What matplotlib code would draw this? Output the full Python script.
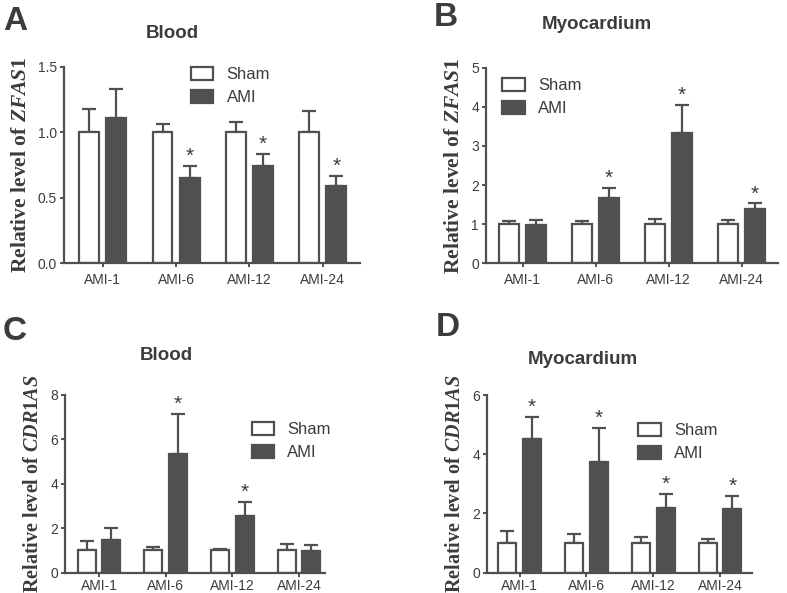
import numpy as np
import matplotlib.pyplot as plt

plt.rcParams['mathtext.fontset'] = 'custom'
plt.rcParams['mathtext.it'] = 'Liberation Serif:italic:bold'
plt.rcParams['mathtext.rm'] = 'Liberation Serif:bold'

groups = ['AMI-1', 'AMI-6', 'AMI-12', 'AMI-24']

# A: ZFAS1 blood
a_sham = [1.0, 1.0, 1.0, 1.0]
a_sham_err = [0.18, 0.06, 0.08, 0.165]
a_ami = [1.107, 0.654, 0.745, 0.592]
a_ami_err = [0.225, 0.09, 0.09, 0.077]
a_sig = [False, True, True, True]

# B: ZFAS1 myocardium
b_sham = [1.0, 1.0, 1.0, 1.0]
b_sham_err = [0.09, 0.09, 0.13, 0.10]
b_ami = [0.97, 1.68, 3.32, 1.39]
b_ami_err = [0.145, 0.24, 0.73, 0.14]
b_sig = [False, True, True, True]

# C: CDR1AS blood
c_sham = [1.0, 1.0, 1.0, 1.0]
c_sham_err = [0.44, 0.17, 0.07, 0.28]
c_ami = [1.47, 5.35, 2.55, 0.99]
c_ami_err = [0.56, 1.80, 0.62, 0.26]
c_sig = [False, True, True, False]

# D: CDR1AS myocardium
d_sham = [1.0, 1.0, 1.0, 1.0]
d_sham_err = [0.42, 0.31, 0.20, 0.14]
d_ami = [4.50, 3.73, 2.17, 2.14]
d_ami_err = [0.77, 1.15, 0.49, 0.45]
d_sig = [True, True, True, True]

dark = '#505050'
txt = '#3c3c3c'

W, H = 787, 593
fig = plt.figure(figsize=(W / 100, H / 100), dpi=100)


def px_axes(x0, x1, ytop, ybot):
    return fig.add_axes([x0 / W, 1 - ybot / H, (x1 - x0) / W, (ybot - ytop) / H])


panels = [
    dict(box=(64, 360, 66.7, 263.3), xl=(-0.53, 3.51), sham=a_sham, se=a_sham_err, ami=a_ami, ae=a_ami_err,
         sig=a_sig, ylim=1.5, yt=[0.0, 0.5, 1.0, 1.5], fmt='{:.1f}', gene='ZFAS1', title='Blood',
         tx=0.365, ty=33, letter='A', lx=3, ly=22, leg=(0.378, 1.075), pad=4, ls=15.5),
    dict(box=(486, 778, 67.7, 263.3), xl=(-0.50, 3.50), sham=b_sham, se=b_sham_err, ami=b_ami, ae=b_ami_err,
         sig=b_sig, ylim=5, yt=[0, 1, 2, 3, 4, 5], fmt='{:d}', gene='ZFAS1', title='Myocardium',
         tx=0.38, ty=25, letter='B', lx=434, ly=18, leg=(0.004, 1.026), pad=4, ls=15.5),
    dict(box=(65, 325, 395, 572.7), xl=(-0.51, 3.39), sham=c_sham, se=c_sham_err, ami=c_ami, ae=c_ami_err,
         sig=c_sig, ylim=8, yt=[0, 2, 4, 6, 8], fmt='{:d}', gene='CDR1AS', title='Blood',
         tx=0.39, ty=356, letter='C', lx=3, ly=332, leg=(0.66, 0.933), pad=1.5, ls=14.5),
    dict(box=(487, 752, 395, 572.7), xl=(-0.49, 3.48), sham=d_sham, se=d_sham_err, ami=d_ami, ae=d_ami_err,
         sig=d_sig, ylim=6, yt=[0, 2, 4, 6], fmt='{:d}', gene='CDR1AS', title='Myocardium',
         tx=0.36, ty=359, letter='D', lx=436, ly=327, leg=(0.514, 0.929), pad=1.5, ls=14.5),
]

x = np.arange(len(groups))
w = 0.27
off = 0.185

for p in panels:
    ax = px_axes(*p['box'])
    ax.bar(x - off, p['sham'], w, color='white', edgecolor=dark, linewidth=1.6, label='Sham', zorder=2)
    ax.bar(x + off, p['ami'], w, color=dark, edgecolor=dark, linewidth=1.6, label='AMI', zorder=2)
    ax.errorbar(x - off, p['sham'], yerr=[np.zeros(4), p['se']], fmt='none', ecolor=dark,
                elinewidth=1.6, capsize=5, capthick=1.6, zorder=1)
    ax.errorbar(x + off, p['ami'], yerr=[np.zeros(4), p['ae']], fmt='none', ecolor=dark,
                elinewidth=1.6, capsize=5, capthick=1.6, zorder=1)
    for i, s in enumerate(p['sig']):
        if s:
            ax.text(x[i] + off, p['ami'][i] + p['ae'][i], '*', ha='center', va='bottom',
                    fontsize=15, color=txt, fontfamily='Liberation Sans')
    ax.set_xlim(*p['xl'])
    ax.set_ylim(0, p['ylim'])
    ax.set_xticks(x)
    ax.set_xticklabels(groups, fontsize=10, color=txt, fontfamily='Liberation Sans')
    ax.set_yticks(p['yt'])
    ax.set_yticklabels([p['fmt'].format(v) for v in p['yt']], fontsize=10, color=txt,
                       fontfamily='Liberation Sans')
    ax.tick_params(axis='x', length=3, width=1.4, color=dark, pad=p['pad'])
    ax.tick_params(axis='y', length=3, width=1.4, color=dark, pad=2)
    for sp in ['top', 'right']:
        ax.spines[sp].set_visible(False)
    for sp in ['left', 'bottom']:
        ax.spines[sp].set_color(dark)
        ax.spines[sp].set_linewidth(1.6)
    ax.set_ylabel(r'Relative level of $\mathit{' + p['gene'] + '}$', fontsize=p['ls'], fontweight='bold',
                  fontfamily='Liberation Serif', color=txt, labelpad=5)
    ax.text(p['tx'], 1 - (p['ty'] - p['box'][2]) / (p['box'][3] - p['box'][2]), p['title'],
            transform=ax.transAxes, ha='center', va='center', fontsize=13.5, fontweight='bold',
            color=txt, fontfamily='Liberation Sans')
    fig.text(p['lx'] / W, 1 - p['ly'] / H, p['letter'], ha='left', va='center', fontsize=24,
             fontweight='bold', color=txt, fontfamily='Liberation Sans')
    leg = ax.legend(loc='upper left', bbox_to_anchor=p['leg'], frameon=False,
                    handlelength=1.35, handleheight=0.85, handletextpad=0.8, labelspacing=0.45,
                    prop={'family': 'Liberation Sans', 'size': 12})
    for t in leg.get_texts():
        t.set_color(txt)

fig.savefig('out.png', dpi=100)
